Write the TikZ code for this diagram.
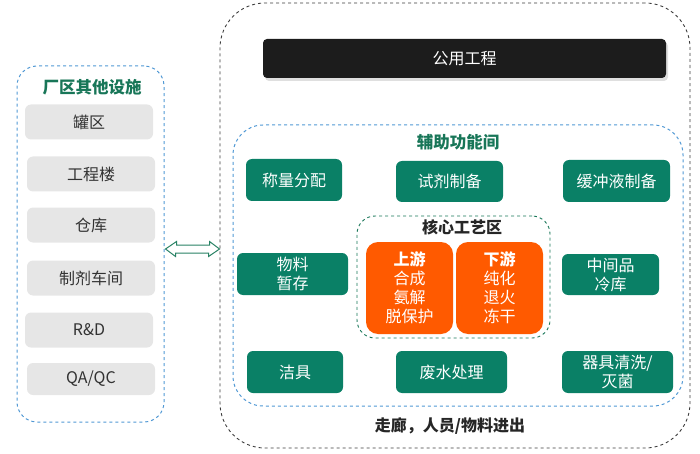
\documentclass[tikz,border=0pt]{standalone}
\usepackage{fontspec}
\setmainfont{Noto Sans CJK SC}
\usetikzlibrary{shadows}
\definecolor{gfill}{RGB}{10,128,102}
\definecolor{gtitle}{RGB}{24,118,88}
\definecolor{bluedash}{RGB}{80,152,212}
\definecolor{orangefill}{RGB}{255,90,0}
\definecolor{grayfill}{RGB}{230,230,230}
\definecolor{textgray}{RGB}{50,50,50}
\definecolor{outerdash}{RGB}{60,60,60}
\definecolor{bardark}{RGB}{28,28,28}
\definecolor{arrowgreen}{RGB}{40,130,100}
\begin{document}
\begin{tikzpicture}[x=1pt,y=-1pt,
  font=\fontsize{16}{19}\selectfont,
  graybox/.style={fill=grayfill, rounded corners=6pt, text=textgray, minimum width=128pt, minimum height=35pt, inner sep=0pt},
  greenbox/.style={fill=gfill, rounded corners=6pt, text=white, inner sep=0pt, align=center},
  orangebox/.style={fill=orangefill, rounded corners=12pt, text=white, inner sep=0pt, align=center, minimum width=87pt, minimum height=92pt},
  bluecontainer/.style={draw=bluedash, dashed, line width=1pt, rounded corners=#1, inner sep=0pt},
  greentitle/.style={text=gtitle, font=\fontsize{16.5}{19}\selectfont\bfseries},
  blacktitle/.style={text=black!85, font=\fontsize{16}{19}\selectfont\bfseries}
]
\useasboundingbox (0,0) rectangle (700,454);

% outer containers
\node[draw=outerdash, dashed, line width=0.9pt, rounded corners=45pt, minimum width=470pt, minimum height=445pt, inner sep=0pt] (outer) at (455,225.5) {};
\node[bluecontainer=20pt, minimum width=147pt, minimum height=356pt] (left) at (90.5,244) {};
\node[bluecontainer=30pt, minimum width=450pt, minimum height=281pt] (aux) at (458,265.5) {};
\node[draw=gtitle, dashed, line width=0.9pt, rounded corners=18pt, minimum width=193pt, minimum height=122pt, inner sep=0pt] (core) at (453.5,277) {};

% left column
\node[greentitle] (lefttitle) at (92,87) {厂区其他设施};
\node[graybox] (g1) at (89,122) {罐区};
\node[graybox] (g2) at (91,174) {工程楼};
\node[graybox] (g3) at (91,225) {仓库};
\node[graybox] (g4) at (91,278) {制剂车间};
\node[graybox] (g5) at (89,330) {R\&D};
\node[graybox, minimum height=32pt] (g6) at (91,379) {QA/QC};

% double arrow
\coordinate (arrowy) at (0,249);
\coordinate (arrL) at ([xshift=1pt]left.east |- arrowy);
\coordinate (arrR) at (outer.west |- arrowy);
\draw[draw=arrowgreen, fill=white, line width=1pt, line join=miter]
  (arrL) -- ++(11,-7.5) -- ++(0,3.5) -- ++(33,0) -- ++(0,-3.5) -- (arrR)
  -- ++(-11,7.5) -- ++(0,-3.5) -- ++(-33,0) -- ++(0,3.5) -- cycle;

% utilities bar
\node[fill=bardark, rounded corners=4pt, minimum width=403pt, minimum height=39pt, inner sep=0pt, text=white,
      drop shadow={opacity=0.25, shadow xshift=2pt, shadow yshift=-3pt}] (util) at (464.5,58.5) {公用工程};

% auxiliary rooms
\node[greentitle] (auxtitle) at (458,142) {辅助功能间};
\node[greenbox, minimum width=96pt, minimum height=42pt] (b1) at (294,180) {称量分配};
\node[greenbox, minimum width=107pt, minimum height=41pt] (b2) at (449.5,181.5) {试剂制备};
\node[greenbox, minimum width=107pt, minimum height=42pt] (b3) at (616.5,181) {缓冲液制备};
\node[greenbox, minimum width=111pt, minimum height=42pt] (b4) at (292.5,274) {物料\\暂存};
\node[greenbox, minimum width=97pt, minimum height=41pt] (b5) at (610.5,274.5) {中间品\\冷库};
\node[greenbox, minimum width=96pt, minimum height=42pt] (b6) at (295,372) {洁具};
\node[greenbox, minimum width=111pt, minimum height=42pt] (b7) at (451.5,372) {废水处理};
\node[greenbox, minimum width=111pt, minimum height=42pt] (b8) at (617.5,372) {器具清洗/\\灭菌};

% core process
\node[blacktitle] (coretitle) at (462,227) {核心工艺区};
\node[orangebox] (up) at (409.5,288) {{\bfseries 上游}\\合成\\氨解\\脱保护};
\node[orangebox] (down) at (499.5,288) {{\bfseries 下游}\\纯化\\退火\\冻干};

% footer
\node[blacktitle] (footer) at (450,426) {走廊，人员/物料进出};
\end{tikzpicture}
\end{document}
